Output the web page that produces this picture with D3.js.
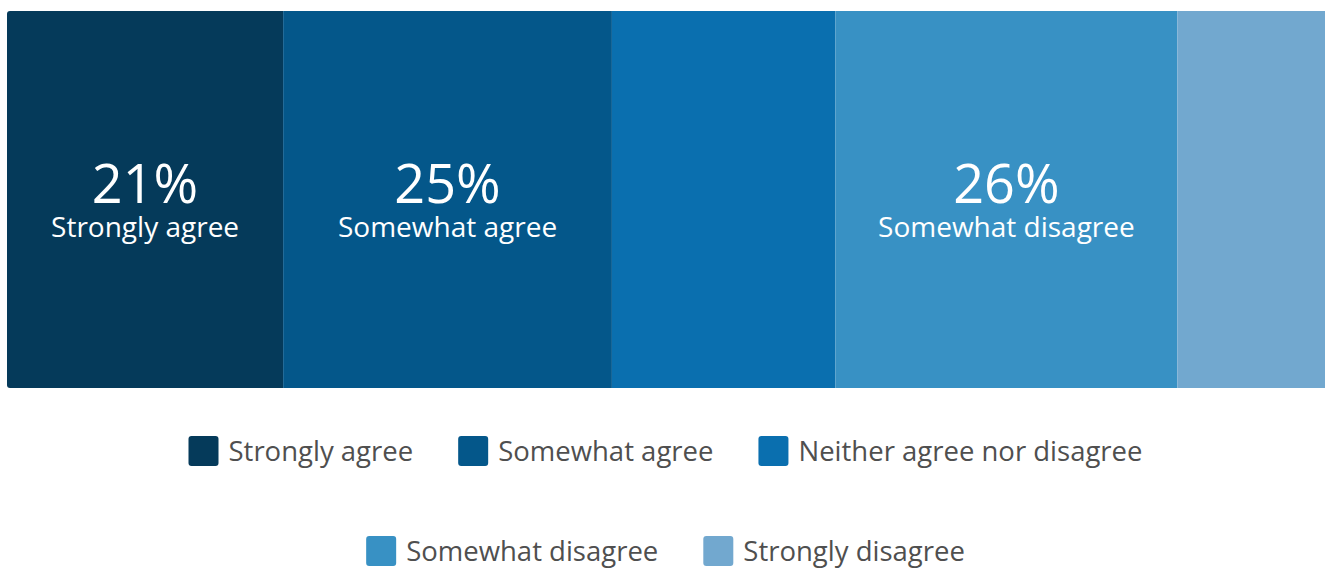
<!DOCTYPE html>
<html>
<head>
<meta charset="utf-8">
<script src="https://cdn.jsdelivr.net/npm/d3@7"></script>
<style>
  html, body { margin: 0; padding: 0; background: #fff; }
  svg { display: block; }
</style>
</head>
<body>
<svg id="chart" width="1325" height="569"></svg>
<script>
// Survey response shares (percent)
const categories = ["Strongly agree", "Somewhat agree", "Neither agree nor disagree", "Somewhat disagree", "Strongly disagree"];
const values = [21, 25, 17, 26, 11];
const showLabel = [true, true, false, true, false];
const colors = ["#053a5a", "#04578a", "#0a6faf", "#3891c4", "#72a8cf"];

const W = 1325, H = 569;
const svg = d3.select("#chart");
const font = "'Open Sans', 'Noto Sans', sans-serif";

const bar = { left: 7, right: 1322, top: 11, bottom: 388 };

const x = d3.scaleLinear().domain([0, d3.sum(values)]).range([bar.left, bar.right]);
const color = d3.scaleOrdinal().domain(categories).range(colors);

// cumulative starts
const stack = [];
let acc = 0;
values.forEach((v, i) => { stack.push({ cat: categories[i], v, x0: acc, x1: acc + v, label: showLabel[i] }); acc += v; });

// clip for rounded left corners
svg.append("defs").append("clipPath").attr("id", "barclip")
  .append("rect")
  .attr("x", bar.left).attr("y", bar.top)
  .attr("width", W - bar.left + 10).attr("height", bar.bottom - bar.top)
  .attr("rx", 3);

const g = svg.append("g").attr("clip-path", "url(#barclip)");
g.selectAll("rect.seg").data(stack).join("rect")
  .attr("class", "seg")
  .attr("x", d => x(d.x0))
  .attr("y", bar.top)
  .attr("width", (d, i) => (i === stack.length - 1 ? W : x(d.x1)) - x(d.x0))
  .attr("height", bar.bottom - bar.top)
  .attr("fill", d => color(d.cat));

// value + category label inside the larger segments
const lab = svg.append("g").selectAll("text").data(stack.filter(d => d.label)).join("text")
  .attr("text-anchor", "middle")
  .attr("font-family", font).attr("fill", "#fff")
  .attr("transform", d => `translate(${(x(d.x0) + x(d.x1)) / 2},0)`);
lab.append("tspan")
  .attr("x", 0).attr("y", 203).attr("font-size", 54)
  .text(d => d.v + "%");
lab.append("tspan")
  .attr("x", 0).attr("y", 237).attr("font-size", 28)
  .text(d => d.cat);

// Legend: two centered rows
const rows = [categories.slice(0, 3), categories.slice(3)];
const rowY = [451, 551];
const sw = 30, gapText = 10, gapItem = 45, cx = W / 2 + 3;
const legend = svg.append("g");
rows.forEach((row, ri) => {
  const rg = legend.append("g");
  const items = rg.selectAll("g").data(row).join("g");
  items.append("rect")
    .attr("width", sw).attr("height", sw).attr("rx", 3)
    .attr("y", -sw / 2)
    .attr("fill", d => color(d));
  items.append("text")
    .attr("x", sw + gapText).attr("y", 10)
    .attr("font-family", font).attr("font-size", 27.5).attr("fill", "#4f4f4f")
    .text(d => d);
  let cur = 0;
  const widths = [];
  items.each(function () { widths.push(this.getBBox().width); });
  items.attr("transform", (d, i) => { const t = cur; cur += widths[i] + gapItem; return `translate(${t},${rowY[ri]})`; });
  const total = cur - gapItem;
  rg.attr("transform", `translate(${cx - total / 2},0)`);
});
</script>
</body>
</html>
